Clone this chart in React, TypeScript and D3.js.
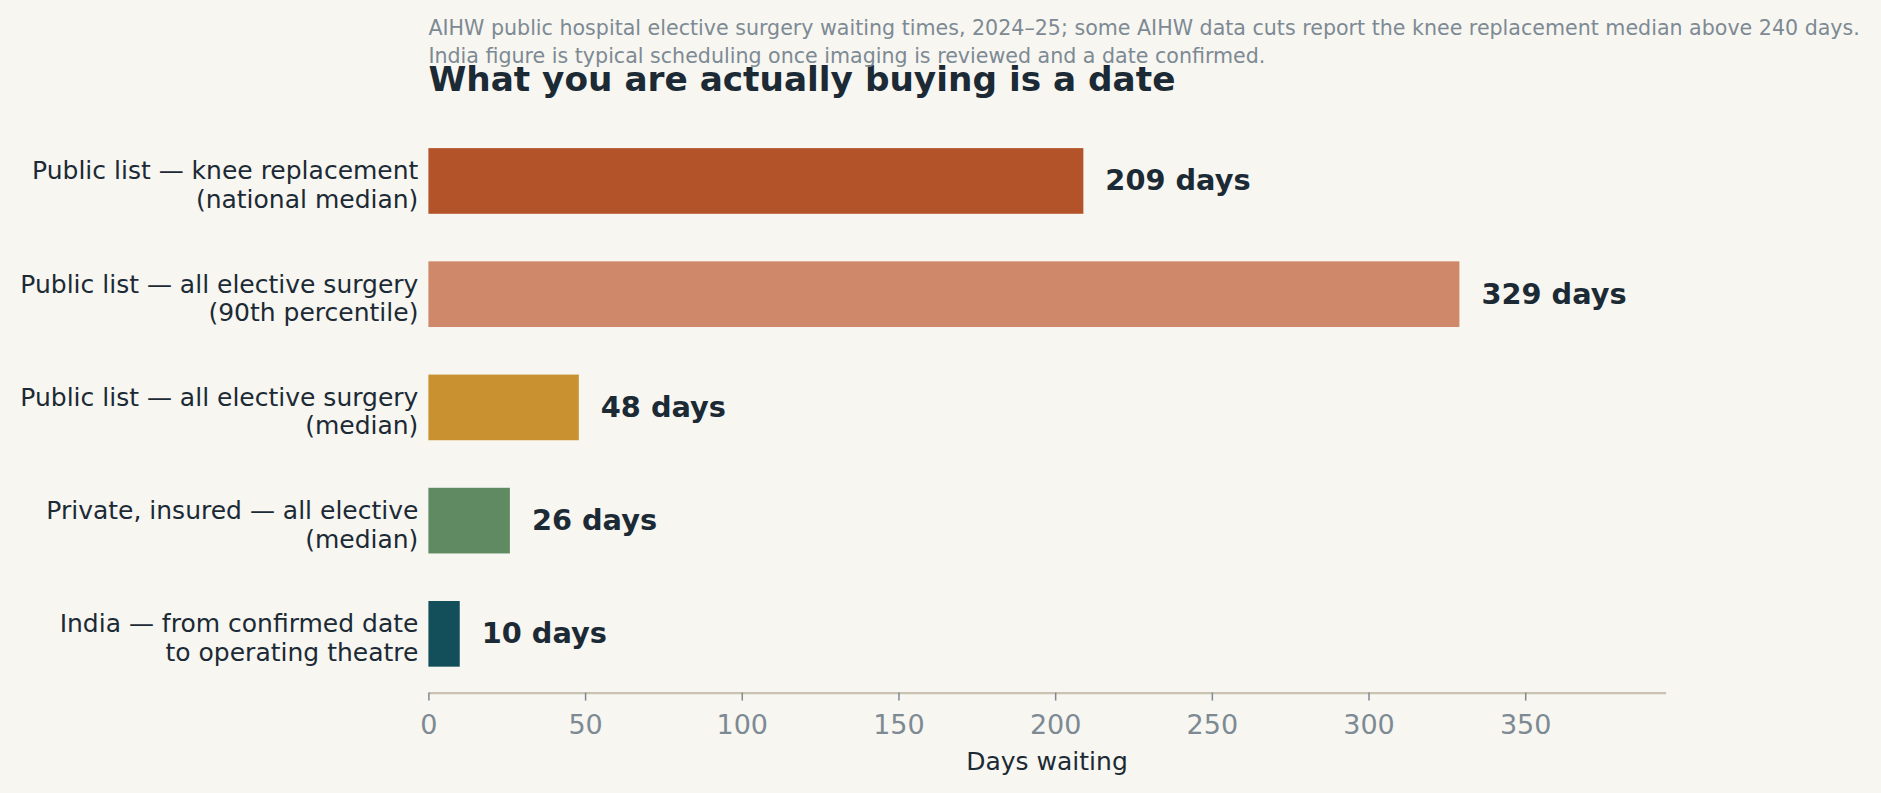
import React, { useEffect, useRef } from "react";
import * as d3 from "d3";

// data
const categories = [
  ["Public list — knee replacement", "(national median)"],
  ["Public list — all elective surgery", "(90th percentile)"],
  ["Public list — all elective surgery", "(median)"],
  ["Private, insured — all elective", "(median)"],
  ["India — from confirmed date", "to operating theatre"],
];
const waitDays = [209, 329, 48, 26, 10];
const barColors = ["#b35329", "#cf896a", "#c99130", "#5f8a62", "#124f5b"];
const xTicks = [0, 50, 100, 150, 200, 250, 300, 350];
const subtitleLines = [
  "AIHW public hospital elective surgery waiting times, 2024–25; some AIHW data cuts report the knee replacement median above 240 days.",
  "India figure is typical scheduling once imaging is reviewed and a date confirmed.",
];
const title = "What you are actually buying is a date";
const xLabel = "Days waiting";

const W = 1881;
const H = 793;
const FONT = "'DejaVu Sans', sans-serif";
const DARK = "#1c2a35";
const GREY = "#7d8a94";

function renderChart(node: SVGSVGElement) {
  const svg = d3.select(node);
  svg.selectAll("*").remove();

  svg.append("rect").attr("width", W).attr("height", H).attr("fill", "#f7f6f1");

  const left = 428.4;
  const right = 1665.6;
  const top = 122.2;
  const bottom = 692.6;

  const barH = 0.58;
  const x = d3.scaleLinear().domain([0, 394.8]).range([left, right]);
  const y = d3.scaleLinear().domain([-0.519, 4.519]).range([top, bottom]);
  const step = y(1) - y(0);

  // bars
  svg
    .append("g")
    .selectAll("rect")
    .data(waitDays)
    .enter()
    .append("rect")
    .attr("x", x(0))
    .attr("y", (d, i) => y(i) - (barH * step) / 2)
    .attr("width", (d) => x(d) - x(0))
    .attr("height", barH * step)
    .attr("fill", (d, i) => barColors[i]);

  // value labels
  svg
    .append("g")
    .selectAll("text")
    .data(waitDays)
    .enter()
    .append("text")
    .attr("x", (d) => x(d) + 22)
    .attr("y", (d, i) => y(i) + 9.5)
    .attr("font-family", FONT)
    .attr("font-size", 28.8)
    .attr("font-weight", "bold")
    .attr("fill", DARK)
    .text((d) => d + " days");

  // category labels
  const labels = svg
    .append("g")
    .selectAll("text")
    .data(categories)
    .enter()
    .append("text")
    .attr("text-anchor", "end")
    .attr("font-family", FONT)
    .attr("font-size", 25)
    .attr("fill", DARK);
  labels
    .selectAll("tspan")
    .data((d, i) => d.map((line, j) => ({ line, j, i })))
    .enter()
    .append("tspan")
    .attr("x", left - 10)
    .attr("y", (d) => y(d.i) - 1.5 + d.j * 28.5)
    .text((d) => d.line);

  // x axis
  const axis = svg
    .append("g")
    .attr("transform", "translate(0," + bottom + ")")
    .call(d3.axisBottom(x).tickValues(xTicks).tickSize(8).tickPadding(8).tickSizeOuter(0));
  axis.select(".domain").attr("stroke", "#c9c1b1").attr("stroke-width", 2.2);
  axis.selectAll(".tick line").attr("stroke", GREY).attr("stroke-width", 1.5);
  axis
    .selectAll(".tick text")
    .attr("font-family", FONT)
    .attr("font-size", 27)
    .attr("fill", GREY)
    .attr("dy", null)
    .attr("y", 41);

  svg
    .append("text")
    .attr("x", (left + right) / 2)
    .attr("y", 770)
    .attr("text-anchor", "middle")
    .attr("font-family", FONT)
    .attr("font-size", 25)
    .attr("fill", DARK)
    .text(xLabel);

  // title + subtitle
  svg
    .append("text")
    .attr("x", left)
    .attr("y", 90.5)
    .attr("font-family", FONT)
    .attr("font-size", 34.3)
    .attr("font-weight", "bold")
    .attr("fill", DARK)
    .text(title);

  svg
    .append("g")
    .selectAll("text")
    .data(subtitleLines)
    .enter()
    .append("text")
    .attr("x", left)
    .attr("y", (d, i) => 35 + i * 28.3)
    .attr("font-family", FONT)
    .attr("font-size", 20.6)
    .attr("fill", GREY)
    .text((d) => d);
}

export default function App() {
  const ref = useRef<SVGSVGElement>(null);
  useEffect(() => {
    if (ref.current) renderChart(ref.current);
  }, []);
  return (
    <svg
      ref={ref}
      width={W}
      height={H}
      style={{ position: "absolute", left: 0, top: 0, display: "block" }}
    />
  );
}
